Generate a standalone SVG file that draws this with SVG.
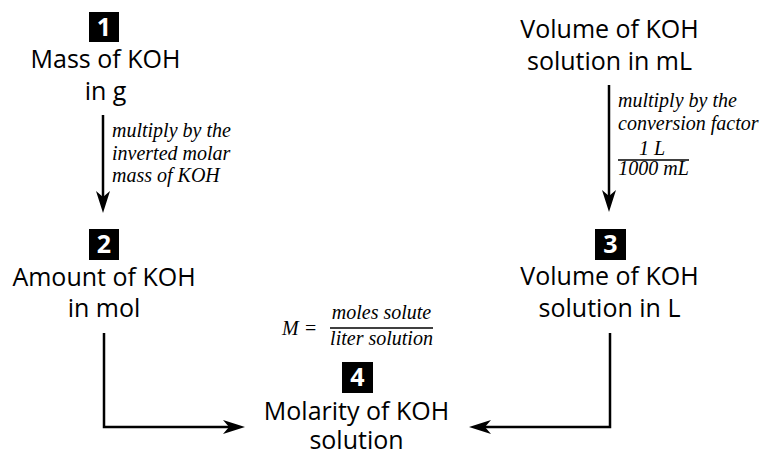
<svg xmlns="http://www.w3.org/2000/svg" width="762" height="454" viewBox="0 0 762 454">
<style>
.node{font-family:"Open Sans","Noto Sans","Liberation Sans",sans-serif;font-size:25px;fill:#000;text-anchor:middle}
.badge rect{fill:#000}
.badge text{font-family:"Open Sans","Liberation Sans",sans-serif;font-weight:700;font-size:25px;fill:#fff;text-anchor:middle}
.lbl{font-family:"Liberation Serif","Times New Roman",serif;font-style:italic;font-size:20px;fill:#000}
.conn{fill:none;stroke:#000;stroke-width:2.5}
.frac{stroke:#000;stroke-width:1.3}
</style>
<defs>
<marker id="ah" viewBox="0 0 22 16" markerUnits="userSpaceOnUse" markerWidth="22" markerHeight="16" refX="6" refY="8" orient="auto">
<path d="M0,1 L22,8 L0,15 L6,8 Z" fill="#000"/>
</marker>
</defs>
<rect width="762" height="454" fill="#fff"/>

<g id="node1">
<g class="badge"><rect x="89" y="12" width="30" height="30"/><text x="104" y="36">1</text></g>
<text class="node" x="105.5" y="68">Mass of KOH</text>
<text class="node" x="105.5" y="100">in g</text>
</g>

<g id="node-mL">
<text class="node" x="609.5" y="38">Volume of KOH</text>
<text class="node" x="609.5" y="70">solution in mL</text>
</g>

<g id="node2">
<g class="badge"><rect x="89" y="229" width="30" height="31"/><text x="104" y="253">2</text></g>
<text class="node" x="104" y="286">Amount of KOH</text>
<text class="node" x="104" y="317">in mol</text>
</g>

<g id="node3">
<g class="badge"><rect x="595" y="229" width="31" height="31"/><text x="610.5" y="253">3</text></g>
<text class="node" x="609.5" y="285">Volume of KOH</text>
<text class="node" x="609.5" y="317">solution in L</text>
</g>

<g id="node4">
<g class="badge"><rect x="342" y="362" width="31" height="31"/><text x="357.5" y="386">4</text></g>
<text class="node" x="356.5" y="420">Molarity of KOH</text>
<text class="node" x="356.5" y="449">solution</text>
</g>

<g id="connectors">
<path class="conn" d="M103,115 V197" marker-end="url(#ah)"/>
<path class="conn" d="M609,85 V196" marker-end="url(#ah)"/>
<path class="conn" d="M104,333 V427 H229" marker-end="url(#ah)"/>
<path class="conn" d="M610,333 V427 H485" marker-end="url(#ah)"/>
</g>

<g id="labels">
<text class="lbl" x="112" y="137">multiply by the</text>
<text class="lbl" x="112" y="160">inverted molar</text>
<text class="lbl" x="112" y="182">mass of KOH</text>

<text class="lbl" x="618" y="107">multiply by the</text>
<text class="lbl" x="618" y="130">conversion factor</text>
<text class="lbl" x="652" y="155" text-anchor="middle">1 L</text>
<line class="frac" x1="618" y1="160" x2="689" y2="160"/>
<text class="lbl" x="653.5" y="175" text-anchor="middle">1000 mL</text>

<text class="lbl" x="282" y="335">M</text>
<text x="305" y="335" style="font-family:'Liberation Serif',serif;font-size:20px">=</text>
<text class="lbl" x="381.5" y="319" text-anchor="middle">moles solute</text>
<line class="frac" x1="330" y1="328" x2="433" y2="328"/>
<text class="lbl" x="381.5" y="345" text-anchor="middle">liter solution</text>
</g>
</svg>
